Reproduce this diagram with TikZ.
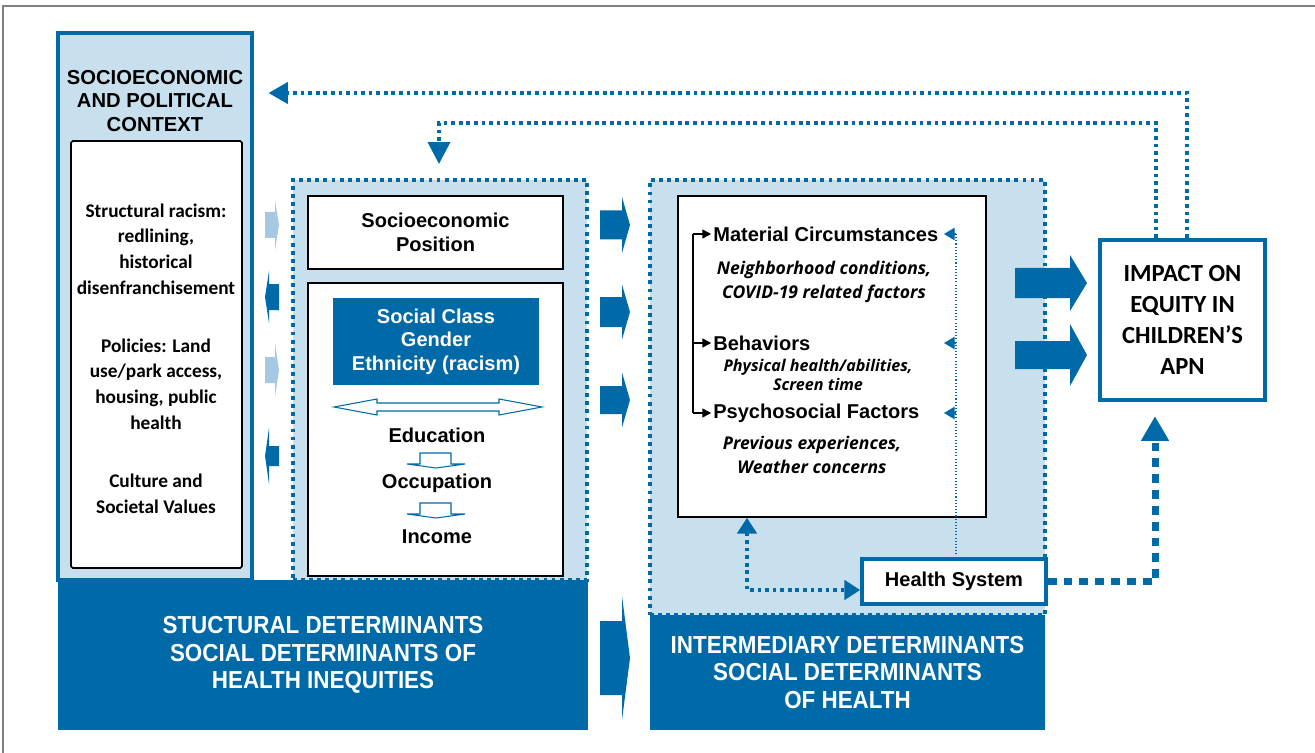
\documentclass[tikz,border=0pt]{standalone}
\usepackage{fontspec}
\usetikzlibrary{arrows.meta}
\usetikzlibrary{fit}

\newfontfamily\arialfont{Liberation Sans}
\newfontfamily\calibfont{Carlito}
\newfontfamily\opensansfont{Open Sans}
\newfontfamily\narrowfont[FakeStretch=0.91]{Liberation Sans}

\definecolor{dblue}{RGB}{0,105,167}
\definecolor{lblue}{RGB}{200,224,238}
\definecolor{pblue}{RGB}{165,201,228}

% block arrow: colour, body from #2 to #3, head to #4, row #5, half heights #6 / #7
\newcommand{\fatarrow}[7]{%
  \fill[#1] (#2,#5-#6) -- (#3,#5-#6) -- (#3,#5-#7) -- (#4,#5)
    -- (#3,#5+#7) -- (#3,#5+#6) -- (#2,#5+#6) -- cycle;}

\tikzset{
  hd/.style={font=\arialfont\bfseries\fontsize{11.4}{13.6}\selectfont, align=center, inner sep=0pt},
  cal/.style={font=\calibfont\bfseries\fontsize{11}{14.6}\selectfont, align=center, inner sep=0pt},
  note/.style={font=\opensansfont\bfseries\itshape\fontsize{10}{13.6}\selectfont, align=center, inner sep=0pt},
  smallnote/.style={note, font=\opensansfont\bfseries\itshape\fontsize{9.2}{11}\selectfont},
  ctxbox/.style={draw=dblue, line width=1.8pt, fill=lblue, inner sep=0pt},
  wbox/.style={draw=black, line width=0.9pt, fill=white, inner sep=0pt},
  dotbox/.style={draw=dblue, line width=2.2pt, dash pattern=on 2.2pt off 2.4pt, fill=lblue, inner sep=0pt},
  hsbox/.style={draw=dblue, line width=2.1pt, fill=white, inner sep=0pt},
  impbox/.style={draw=dblue, line width=2.4pt, fill=white, inner sep=0pt},
  impact text/.style={align=center, inner sep=0pt, font=\calibfont\bfseries\fontsize{14}{17.6}\selectfont},
  det/.style={text=white, align=center, inner sep=0pt,
    font=\narrowfont\bfseries\fontsize{14}{15.6}\selectfont},
  fb/.style={draw=dblue, line width=2.1pt, dash pattern=on 2.1pt off 2.2pt},
  thickfb/.style={draw=dblue, line width=4pt, dash pattern=on 5pt off 4pt},
  thinfb/.style={draw=dblue, line width=0.6pt, dash pattern=on 0.6pt off 1.2pt},
  holarrow/.style={draw=dblue, line width=0.6pt, fill=white}
}

\begin{document}
\begin{tikzpicture}[x=0.02cm, y=-0.02cm]
    \useasboundingbox (0,0) rectangle (1315,753);
    \draw[gray, line width=0.6pt] (3,753) -- (3,6) -- (1315,6);

    % context column
    \node[ctxbox, fit={(58,33) (252,580)}] (context) {};
    \node[hd, font=\arialfont\bfseries\fontsize{11.5}{13.6}\selectfont] (ctxtitle) at (155,101) {SOCIOECONOMIC\\AND POLITICAL\\CONTEXT};
    \node[wbox, rounded corners=1pt, fit={(71,141) (242,568)}] (ctxlist) {};
    \node[cal] (racism) at (156,249) {Structural racism:\\redlining,\\historical\\disenfranchisement};
    \node[cal] (policies) at (156,384) {Policies: Land\\use/park access,\\housing, public\\health};
    \node[cal] (culture) at (156,494) {Culture and\\Societal Values};

    \fatarrow{pblue}{265}{275}{279}{225}{13}{25}
    \fatarrow{dblue}{279}{269}{265}{297}{13}{26}
    \fatarrow{pblue}{265}{275}{279}{370}{13}{27}
    \fatarrow{dblue}{279}{269}{265}{456}{10}{28}

    % structural determinants
    \node[dotbox, fit={(293,180) (587,580)}] (midbox) {};
    \node[wbox, fit={(308,196) (563,269)}] (sep) {};
    \node[hd] (septext) at (sep) {Socioeconomic\\Position};
    \node[wbox, fit={(308,283) (563,576)}] (sepbox) {};
    \node[fill=dblue, inner sep=0pt, fit={(333,298) (539,385)}] (strat) {};
    \node[hd, text=white, font=\arialfont\bfseries\fontsize{11.4}{13.3}\selectfont] (strattext) at (strat) {Social Class\\Gender\\Ethnicity (racism)};
    \draw[holarrow] (334,407) -- (377,399) -- (377,403) -- (499,403) -- (499,399) -- (542,407)
        -- (499,415) -- (499,411) -- (377,411) -- (377,415) -- cycle;
    \node[hd] (edu) at (437,435) {Education};
    \node[hd] (occ) at (437,483) {Occupation};
    \node[hd] (inc) at (437,537) {Income};
    \foreach \t in {453,503}
        \draw[holarrow] (420,\t) -- (451,\t) -- (451,\t+11) -- (465,\t+11) -- (436,\t+15)
            -- (407,\t+11) -- (420,\t+11) -- cycle;

    \fatarrow{dblue}{600}{622}{630}{225}{14.5}{28}
    \fatarrow{dblue}{600}{622}{630}{312}{15}{27.5}
    \fatarrow{dblue}{600}{622}{630}{400}{14}{27.5}
    \fatarrow{dblue}{600}{622}{630}{658}{37}{62}

    % intermediary determinants
    \node[dotbox, fit={(650,180) (1045,615)}] (rbox) {};
    \node[wbox, fit={(678,196) (986,517)}] (mcbox) {};
    \node[hd, anchor=west] (mc) at (713,234) {Material Circumstances};
    \node[note] (mcnote) at (824,282) {Neighborhood conditions,\\COVID-19 related factors};
    \node[hd, anchor=west] (beh) at (713,343) {Behaviors};
    \node[smallnote] (behnote) at (818,375) {Physical health/abilities,\\Screen time};
    \node[hd, anchor=west] (psy) at (713,413) {Psychosocial Factors};
    \node[note] (psynote) at (812,455) {Previous experiences,\\Weather concerns};

    \coordinate (brk) at (693,0);
    \draw[line width=0.9pt] (brk |- mc) -- (brk |- psy);
    \foreach \n in {mc,beh,psy}
        \draw[line width=0.9pt, -{Triangle[length=5pt,width=5pt]}, shorten >=1pt] (brk |- \n) -- (\n.west);

    \node[hsbox, fit={(862,559) (1046,604)}] (hs) {};
    \node[hd] (hstext) at (hs) {Health System};

    \coordinate (fbx) at (956,0);
    \coordinate (fbtip) at (944,0);
    \draw[thinfb] (fbx |- mc) -- (hs.north -| fbx);
    \foreach \n in {mc,beh,psy}
        \draw[dblue, line width=0.6pt, -{Triangle[length=6pt,width=7pt]}] (fbx |- \n) -- (fbtip |- \n);

    \coordinate (loopc) at (747,590);
    \draw[fb, {Triangle[length=9pt,width=11pt]}-{Triangle[length=9pt,width=11pt]}] (mcbox.south -| loopc) |- (hs.west |- loopc);

    % bottom bands
    \node[fill=dblue, inner sep=0pt, fit={(58,580) (588,730)}] (strdet) {};
    \node[det] at (strdet) {STUCTURAL DETERMINANTS\\SOCIAL DETERMINANTS OF\\HEALTH INEQUITIES};
    \node[fill=dblue, inner sep=0pt, fit={(650,615) (1045,730)}] (intdet) {};
    \node[det] at (intdet) {INTERMEDIARY DETERMINANTS\\SOCIAL DETERMINANTS\\OF HEALTH};

    % outcome
    \node[impbox, fit={(1100,240) (1265,400)}] (impact) {};
    \node[impact text] (impacttext) at (impact) {IMPACT ON\\EQUITY IN\\CHILDREN’S\\APN};
    \fatarrow{dblue}{1015}{1070}{1087}{283}{15}{28}
    \fatarrow{dblue}{1015}{1070}{1087}{355}{14}{31}

    % feedback loops
    \coordinate (topa) at (1187,93);
    \coordinate (topb) at (1156,123);
    \coordinate (topc) at (439,123);
    \draw[fb, -{Triangle[length=11pt,width=12pt]}, shorten >=8.5pt] (impact.north -| topa) -- (topa) -- (context.east |- topa);
    \draw[fb, -{Triangle[length=12.5pt,width=12.5pt]}, shorten >=8pt] (impact.north -| topb) -- (topb) -- (topc) -- (midbox.north -| topc);

    \coordinate (hsr) at (1155,0);
    \draw[thickfb, -{Triangle[length=14pt,width=15pt]}, shorten >=8pt] (hs.east) -| (impact.south -| hsr);
\end{tikzpicture}
\end{document}
